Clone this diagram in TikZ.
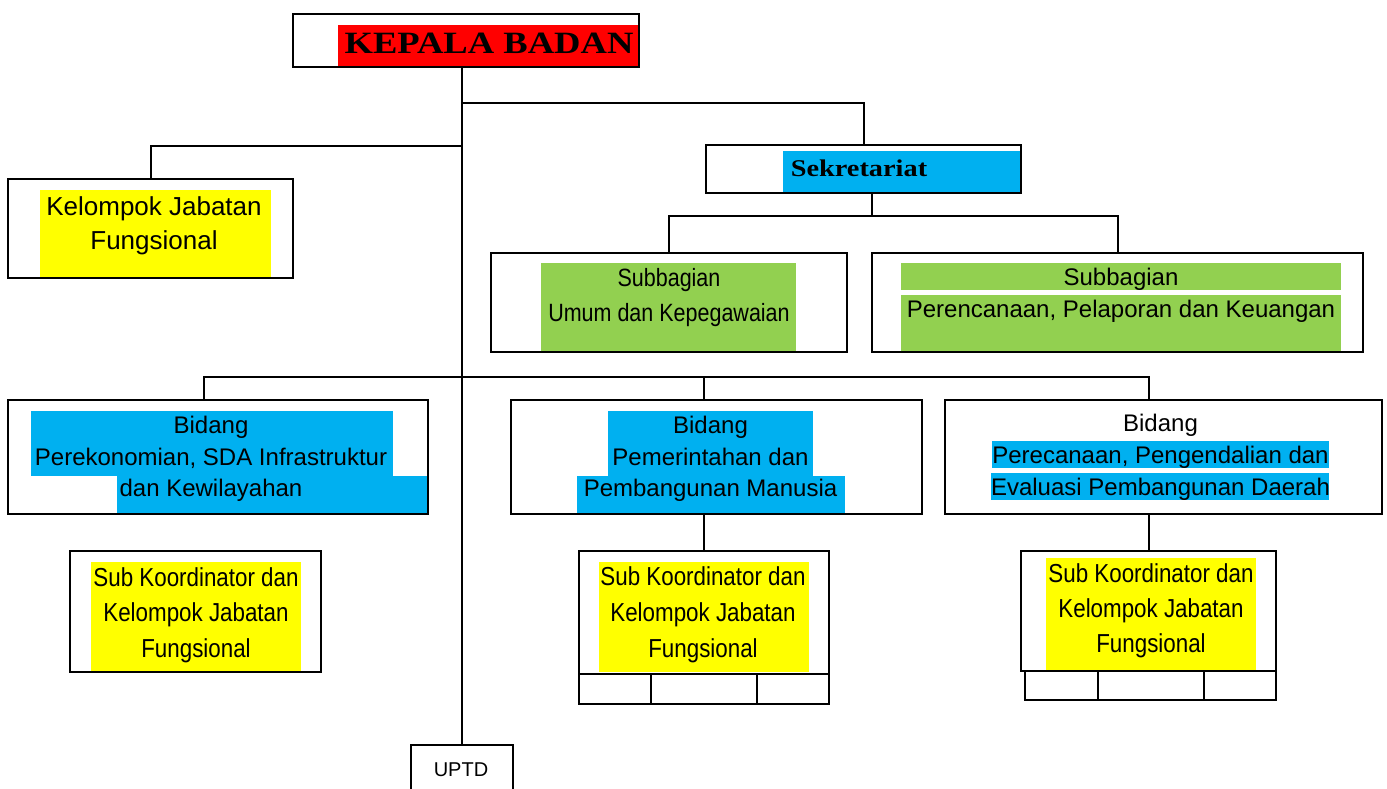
\documentclass[tikz,border=0pt]{standalone}
\usepackage{fontspec}
\setmainfont{Liberation Sans}
\newfontfamily\kepfont{Liberation Serif}[FakeStretch=1.18]
\newfontfamily\narrowfont{Liberation Sans}[FakeStretch=0.86]
\definecolor{cred}{HTML}{FF0000}
\definecolor{ccyan}{HTML}{00B0F0}
\definecolor{cgreen}{HTML}{92D050}
\definecolor{cyellow}{HTML}{FFFF00}
\begin{document}
\begin{tikzpicture}[x=1pt,y=-1pt,
  box/.style={draw=black, line width=2pt, inner sep=0pt},
  lbl/.style={align=center, inner sep=0pt, text=black},
  conn/.style={draw=black, line width=2pt}]
\useasboundingbox (0,0) rectangle (1387,789);

% ---------- colour fills ----------
\fill[cred] (338,25) rectangle (639,67);
\fill[cyellow] (40,190) rectangle (271,278);
\fill[ccyan] (783,151) rectangle (1021,193);
\fill[cgreen] (541,263) rectangle (796,352);
\fill[cgreen] (901,263) rectangle (1341,290);
\fill[cgreen] (901,295) rectangle (1341,352);
\fill[ccyan] (31,411) rectangle (393,476);
\fill[ccyan] (117,476) rectangle (428,514);
\fill[ccyan] (608,411) rectangle (813,476);
\fill[ccyan] (577,476) rectangle (845,514);
\fill[ccyan] (992,441) rectangle (1329,468);
\fill[ccyan] (991,473) rectangle (1329,500);
\fill[cyellow] (91,562) rectangle (301,672);
\fill[cyellow] (599,562) rectangle (809,672);
\fill[cyellow] (1046,558) rectangle (1256,670);

% ---------- boxes ----------
\node[box, minimum width=346pt, minimum height=53pt] (kepala) at (466,40.5) {};
\node[box, minimum width=285pt, minimum height=99pt] (kjf) at (150.5,228.5) {};
\node[box, minimum width=315pt, minimum height=48pt] (sek) at (863.5,169) {};
\node[box, minimum width=356pt, minimum height=99pt] (sub1) at (669,302.5) {};
\node[box, minimum width=491pt, minimum height=99pt] (sub2) at (1117.5,302.5) {};
\node[box, minimum width=420pt, minimum height=114pt] (bid1) at (218,457) {};
\node[box, minimum width=411pt, minimum height=114pt] (bid2) at (716.5,457) {};
\node[box, minimum width=437pt, minimum height=114pt] (bid3) at (1163.5,457) {};
\node[box, minimum width=251pt, minimum height=121pt] (skb1) at (195.5,611.5) {};
\node[box, minimum width=250pt, minimum height=123pt] (skb2) at (704,612.5) {};
\node[box, minimum width=255pt, minimum height=120pt] (skb3) at (1148.5,611) {};
\node[box, minimum width=72pt, minimum height=30pt] (c21) at (615,689) {};
\node[box, minimum width=106pt, minimum height=30pt] (c22) at (704,689) {};
\node[box, minimum width=72pt, minimum height=30pt] (c23) at (793,689) {};
\node[box, minimum width=73pt, minimum height=29pt] (c31) at (1061.5,685.5) {};
\node[box, minimum width=106pt, minimum height=29pt] (c32) at (1151,685.5) {};
\node[box, minimum width=72pt, minimum height=29pt] (c33) at (1240,685.5) {};
\node[box, minimum width=102pt, minimum height=56pt] (uptd) at (462,773) {};

% ---------- junction coordinates ----------
\coordinate (j1) at (462,103);
\coordinate (j2) at (462,146);
\coordinate (j3) at (872,216);
\coordinate (j4) at (462,377);
\coordinate (d1) at (204,400);

% ---------- connectors ----------
\draw[conn] (kepala.south -| uptd.north) -- (uptd.north);
\draw[conn] (j1) -| (sek.north);
\draw[conn] (j2) -| (kjf.north);
\draw[conn] (sek.south -| j3) -- (j3);
\draw[conn] (sub1.north) |- (j3) -| (sub2.north);
\draw[conn] (d1) |- (j4) -| (bid3.north -| skb3.north);
\draw[conn] (bid2.north -| skb2.north) -- (j4 -| skb2.north);
\draw[conn] (bid2.south -| skb2.north) -- (skb2.north);
\draw[conn] (bid3.south -| skb3.north) -- (skb3.north);

% ---------- texts ----------
\node[lbl, anchor=base, font=\kepfont\bfseries\fontsize{31}{34}\selectfont] (tkep) at (489,54) {KEPALA BADAN};
\node[lbl, font=\fontsize{26}{34}\selectfont] (tkjf) at (154,226) {Kelompok Jabatan\\Fungsional};
\node[lbl, font=\kepfont\bfseries\fontsize{24}{28}\selectfont] (tsek) at (859,168) {Sekretariat};
\node[lbl, font=\narrowfont\fontsize{25}{35}\selectfont] (tsub1) at (669,298) {Subbagian\\Umum dan Kepegawaian};
\node[lbl, font=\fontsize{24}{32}\selectfont] (tsub2) at (1121,295) {Subbagian\\Perencanaan, Pelaporan dan Keuangan};
\node[lbl, font=\fontsize{24}{31.5}\selectfont] (tbid1) at (211,459) {Bidang\\Perekonomian, SDA Infrastruktur\\dan Kewilayahan};
\node[lbl, font=\fontsize{24}{31.5}\selectfont] (tbid2) at (710.5,459) {Bidang\\Pemerintahan dan\\Pembangunan Manusia};
\node[lbl, font=\fontsize{24}{32}\selectfont] (tbid3) at (1160.5,457) {Bidang\\Perecanaan, Pengendalian dan\\Evaluasi Pembangunan Daerah};
\node[lbl, font=\narrowfont\fontsize{26}{35.5}\selectfont] (tskb1) at (196,615) {Sub Koordinator dan\\Kelompok Jabatan\\Fungsional};
\node[lbl, font=\narrowfont\fontsize{26}{36}\selectfont] (tskb2) at (703,614.5) {Sub Koordinator dan\\Kelompok Jabatan\\Fungsional};
\node[lbl, font=\narrowfont\fontsize{26}{35}\selectfont] (tskb3) at (1151,610.5) {Sub Koordinator dan\\Kelompok Jabatan\\Fungsional};
\node[lbl, font=\fontsize{20}{24}\selectfont] (tuptd) at (461,770) {UPTD};
\end{tikzpicture}
\end{document}
